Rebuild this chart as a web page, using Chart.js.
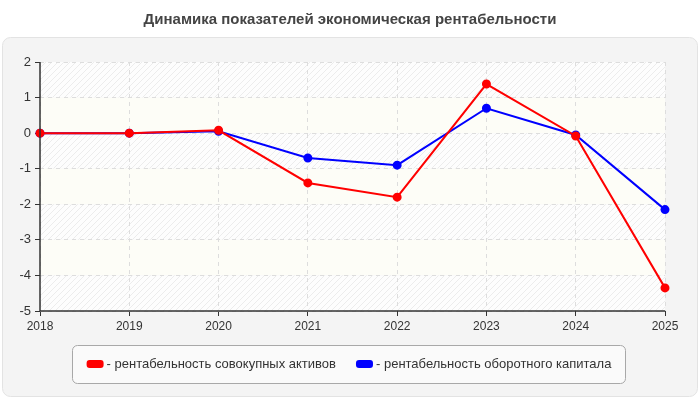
<!DOCTYPE html>
<html>
<head>
<meta charset="utf-8">
<title>Динамика показателей</title>
<script src="https://cdn.jsdelivr.net/npm/chart.js"></script>
<style>
  body { margin: 0; background: #fff; }
  #wrap { width: 700px; height: 400px; }
</style>
</head>
<body>
<div id="wrap"><canvas id="chart"></canvas></div>
<script>
const years = ['2018', '2019', '2020', '2021', '2022', '2023', '2024', '2025'];
const assetsReturn = [0, 0, 0.08, -1.4, -1.8, 1.38, -0.08, -4.35];
const workingCapitalReturn = [0, 0, 0.05, -0.7, -0.9, 0.7, -0.05, -2.15];
const seriesNames = ['рентабельность совокупных активов', 'рентабельность оборотного капитала'];
const chartTitle = 'Динамика показателей экономическая рентабельности';

const FONT = '"Liberation Sans", Arial, sans-serif';

// hatch pattern for plot bands
const hatch = (() => {
  const c = document.createElement('canvas');
  c.width = 6; c.height = 6;
  const g = c.getContext('2d');
  g.fillStyle = '#fdfdfd';
  g.fillRect(0, 0, 6, 6);
  g.strokeStyle = '#ececec';
  g.lineWidth = 1;
  g.beginPath();
  g.moveTo(0, 6); g.lineTo(6, 0);
  g.moveTo(-1, 1); g.lineTo(1, -1);
  g.moveTo(5, 7); g.lineTo(7, 5);
  g.stroke();
  return g.createPattern(c, 'repeat');
})();

const backdrop = {
  id: 'backdrop',
  beforeDraw(chart) {
    const { ctx, chartArea: a, scales: { y } } = chart;
    ctx.save();
    // panel
    ctx.fillStyle = '#f4f4f4';
    ctx.strokeStyle = '#e3e3e3';
    ctx.lineWidth = 1;
    ctx.beginPath();
    ctx.roundRect(2.5, 37.5, 695, 359, 8);
    ctx.fill();
    ctx.stroke();
    // title
    ctx.fillStyle = '#444';
    ctx.font = 'bold 15px ' + FONT;
    ctx.textAlign = 'center';
    ctx.textBaseline = 'middle';
    ctx.fillText(chartTitle, 350, 20);
    // alternating bands
    for (let v = y.max; v > y.min; v--) {
      const t = y.getPixelForValue(v), b = y.getPixelForValue(v - 1);
      ctx.fillStyle = ((y.max - v) % 2 === 0) ? hatch : '#fdfdf7';
      ctx.fillRect(a.left, t, a.right - a.left, b - t);
    }
    // legend
    ctx.fillStyle = '#fafafa';
    ctx.strokeStyle = '#a8a8a8';
    ctx.beginPath();
    ctx.roundRect(72.5, 345.5, 553, 38, 5);
    ctx.fill();
    ctx.stroke();
    ctx.font = '13px ' + FONT;
    ctx.textAlign = 'left';
    const items = chart.data.datasets.map(d => ({ color: d.borderColor, text: '- ' + d.label }));
    const widths = items.map(it => 20 + ctx.measureText(it.text).width);
    const gap = 20;
    let x = 349 - (widths.reduce((s, w) => s + w, 0) + gap) / 2;
    items.forEach((it, i) => {
      ctx.fillStyle = it.color;
      ctx.beginPath();
      ctx.roundRect(x, 360, 17, 8, 3);
      ctx.fill();
      ctx.fillStyle = '#333';
      ctx.fillText(it.text, x + 20, 364);
      x += widths[i] + gap;
    });
    ctx.restore();
  },
  afterDraw(chart) {
    const { ctx, chartArea: a } = chart;
    ctx.save();
    ctx.strokeStyle = '#333';
    ctx.lineWidth = 1.5;
    ctx.beginPath();
    ctx.moveTo(a.left, a.top);
    ctx.lineTo(a.left, a.bottom);
    ctx.lineTo(a.right, a.bottom);
    ctx.stroke();
    ctx.restore();
  }
};

new Chart(document.getElementById('chart'), {
  type: 'line',
  data: {
    labels: years,
    datasets: [
      {
        label: seriesNames[0],
        data: assetsReturn,
        borderColor: '#ff0000',
        backgroundColor: '#ff0000',
        borderWidth: 2,
        pointRadius: 3.5,
        pointHoverRadius: 3.5,
        tension: 0,
        clip: false
      },
      {
        label: seriesNames[1],
        data: workingCapitalReturn,
        borderColor: '#0000ff',
        backgroundColor: '#0000ff',
        borderWidth: 2,
        pointRadius: 3.5,
        pointHoverRadius: 3.5,
        tension: 0,
        clip: false
      }
    ]
  },
  options: {
    responsive: true,
    maintainAspectRatio: false,
    animation: false,
    layout: { padding: { top: 62, right: 35, bottom: 59, left: 0 } },
    plugins: {
      legend: { display: false },
      title: { display: false },
      tooltip: { enabled: false }
    },
    scales: {
      x: {
        offset: false,
        afterFit: s => { s.height = 30; },
        grid: { color: '#dddddd', tickColor: '#333', tickLength: 5 },
        border: { display: false, dash: [4, 4] },
        ticks: { color: '#333', font: { family: FONT, size: 12 }, padding: 3, maxRotation: 0 }
      },
      y: {
        min: -5,
        max: 2,
        afterFit: s => { s.width = 40; },
        grid: { color: '#dddddd', tickColor: '#333', tickLength: 5 },
        border: { display: false, dash: [4, 4] },
        ticks: { stepSize: 1, color: '#333', font: { family: FONT, size: 13 }, padding: 4 }
      }
    }
  },
  plugins: [backdrop]
});
</script>
</body>
</html>
